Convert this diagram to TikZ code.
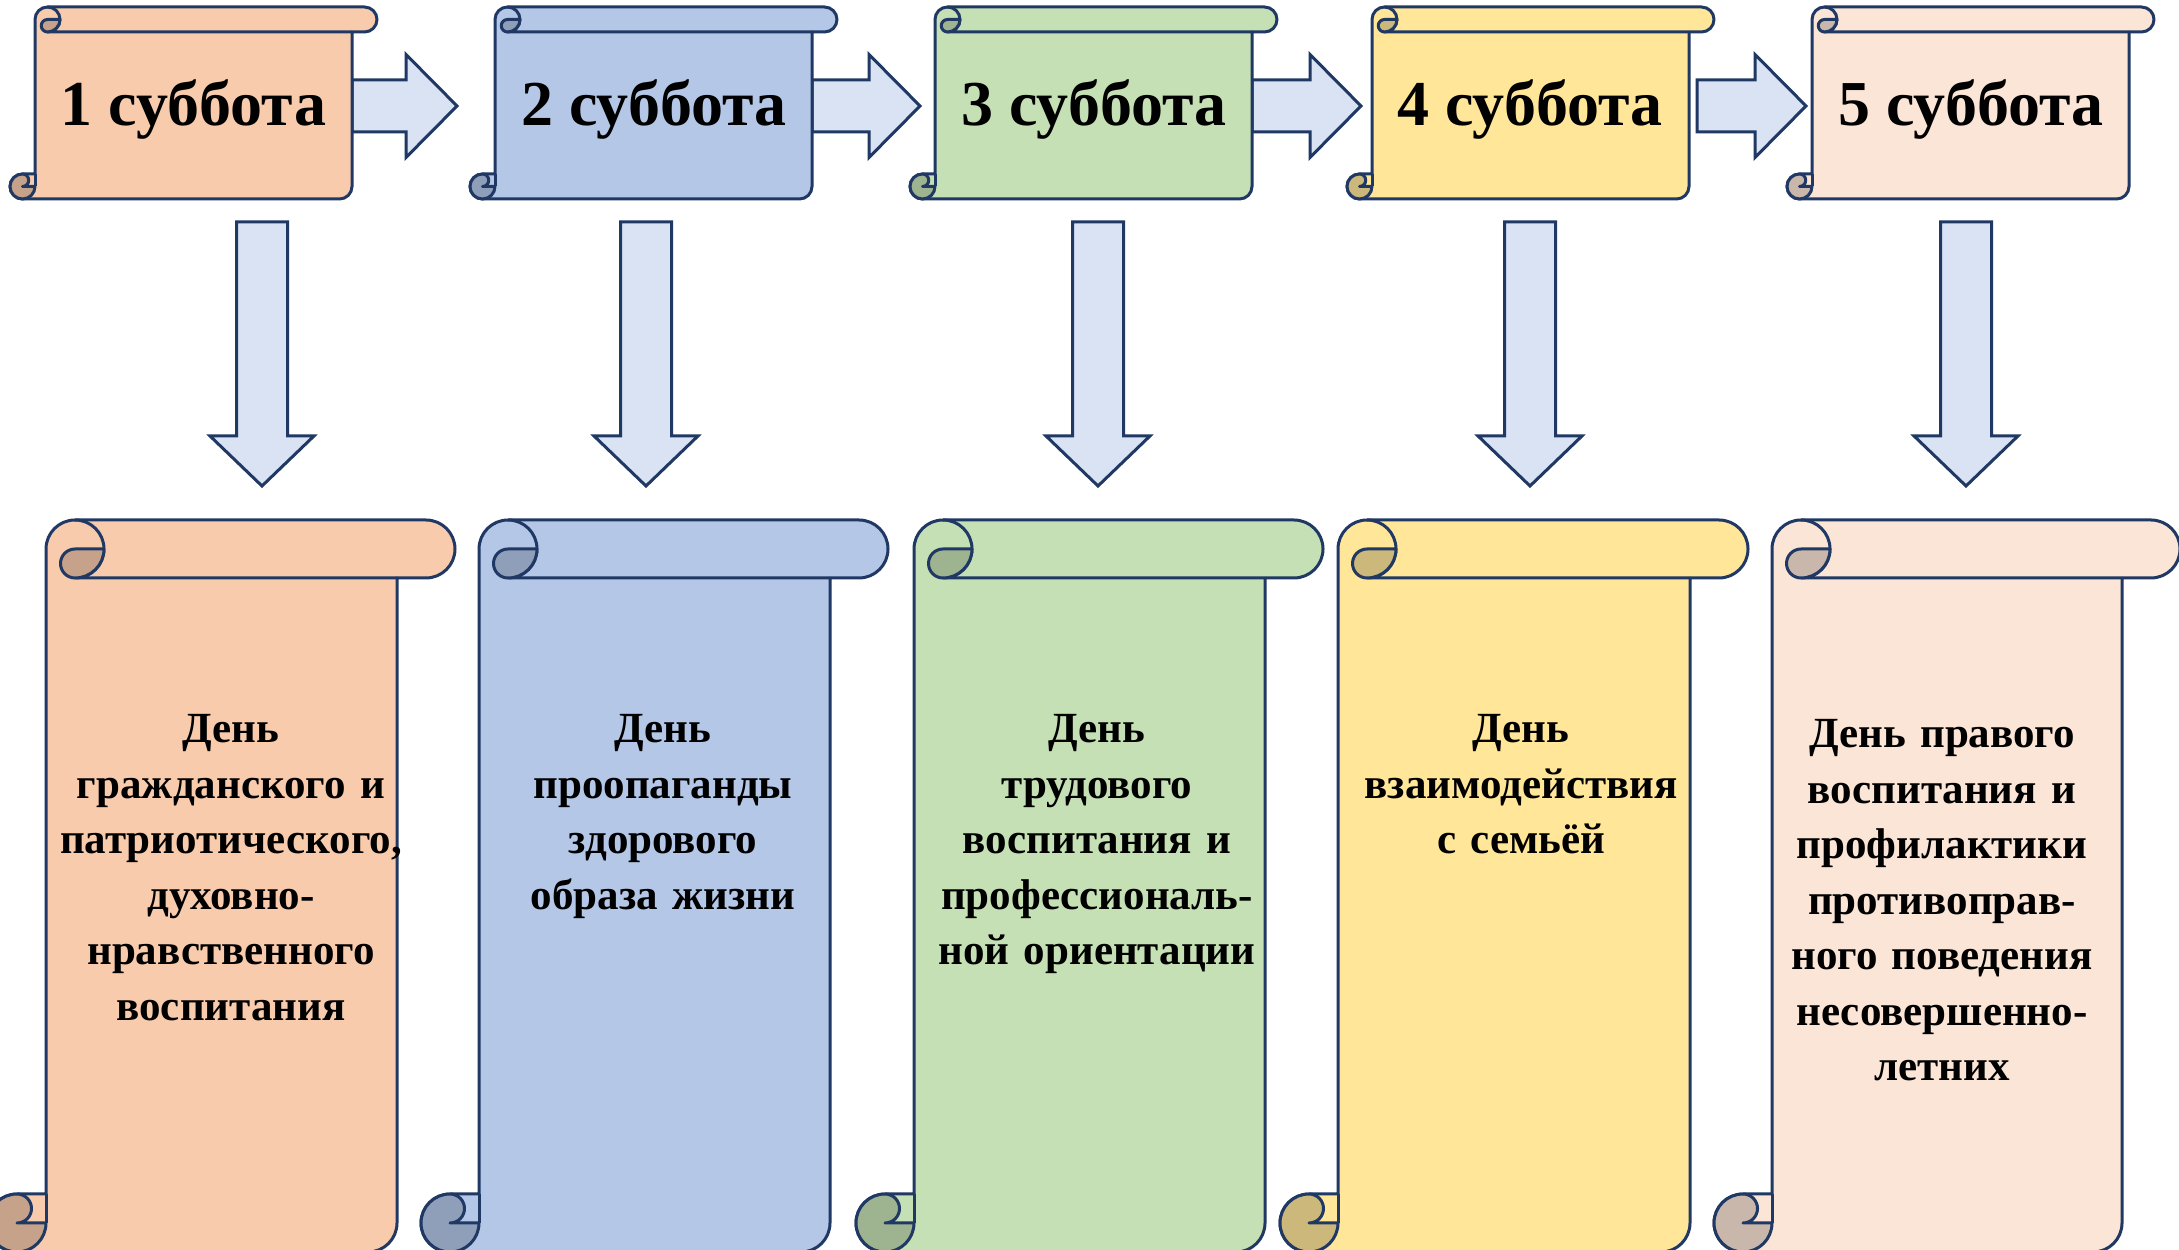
\documentclass[tikz,border=0pt]{standalone}
\usepackage{fontspec}
\setmainfont{Liberation Serif}
\definecolor{navy}{HTML}{1F3864}
\definecolor{arrowfill}{HTML}{DAE3F3}
\definecolor{fillA}{HTML}{F8CBAD}\definecolor{darkA}{HTML}{C6A28A}
\definecolor{fillB}{HTML}{B4C7E7}\definecolor{darkB}{HTML}{909FB9}
\definecolor{fillC}{HTML}{C5E0B4}\definecolor{darkC}{HTML}{9EB390}
\definecolor{fillD}{HTML}{FFE699}\definecolor{darkD}{HTML}{CCB87A}
\definecolor{fillE}{HTML}{FBE5D6}\definecolor{darkE}{HTML}{C9B7AB}
% #1 left, #2 top, #3 right, #4 bottom, #5 roll size, #6 fill, #7 dark fill
\newcommand{\scrollshape}[7]{%
  \pgfmathsetmacro{\sL}{#1}\pgfmathsetmacro{\sT}{#2}%
  \pgfmathsetmacro{\sR}{#3}\pgfmathsetmacro{\sB}{#4}%
  \pgfmathsetmacro{\sc}{#5}\pgfmathsetmacro{\sh}{#5/2}\pgfmathsetmacro{\sq}{#5/4}%
  \filldraw[scrollline, fill=#6] (\sL,\sT-\sh) -- (\sL,\sB+\sc) -- (\sL-\sh,\sB+\sc)
    arc[start angle=90,end angle=270,radius=\sh] -- (\sR-\sh,\sB)
    arc[start angle=-90,end angle=0,radius=\sh] -- (\sR,\sT-\sc) -- (\sR+\sh,\sT-\sc)
    arc[start angle=-90,end angle=90,radius=\sh] -- (\sL+\sh,\sT)
    arc[start angle=90,end angle=180,radius=\sh] -- cycle;
  \draw[scrollline] (\sL+\sh,\sT) arc[start angle=90,end angle=-90,radius=\sh] -- (\sR,\sT-\sc);
  \draw[scrollline] (\sL,\sB+\sc) -- (\sL,\sB+\sh);
  \filldraw[scrollline, fill=#7] (\sL+\sh,\sT-\sh) -- (\sL+\sc,\sT-\sh)
    arc[start angle=0,end angle=-90,radius=\sh]
    arc[start angle=270,end angle=90,radius=\sq] -- cycle;
  \filldraw[scrollline, fill=#7] (\sL-\sh,\sB+\sc)
    arc[start angle=90,end angle=360,radius=\sh] -- (\sL-\sh,\sB+\sh)
    arc[start angle=-90,end angle=90,radius=\sq] -- cycle;
}
% horizontal block arrow: #1 start x, #2 tip x, #3 centre y
\newcommand{\harrow}[3]{%
  \filldraw[arrowbox] (#1,#3+26) -- (#2-51,#3+26) -- (#2-51,#3+51.5) -- (#2,#3)
    -- (#2-51,#3-51.5) -- (#2-51,#3-26) -- (#1,#3-26) -- cycle;
}
% vertical block arrow: #1 centre x
\newcommand{\varrow}[1]{%
  \filldraw[arrowbox] (#1-25.5,1028) -- (#1+25.5,1028) -- (#1+25.5,814) -- (#1+52,814)
    -- (#1,764) -- (#1-52,814) -- (#1-25.5,814) -- cycle;
}
\begin{document}
\begin{tikzpicture}[x=1pt,y=1pt,
  scrollline/.style={draw=navy, line width=3pt, line join=round},
  arrowbox/.style={draw=navy, fill=arrowfill, line width=3pt, line join=miter},
  title/.style={font=\fontsize{64}{70}\selectfont\bfseries, inner sep=0pt, anchor=base},
  bodytext/.style={font=\fontsize{43}{55.5}\selectfont\bfseries, inner sep=0pt, anchor=base,
    text width=520pt, align=center}]
\useasboundingbox (0,0) rectangle (2179,1250);
\clip (0,0) rectangle (2179,1250);
\fill[white] (0,0) rectangle (2179,1250);
% horizontal arrows
\harrow{352}{457}{1144}
\harrow{812}{920}{1144}
\harrow{1252}{1361}{1144}
\harrow{1697}{1806}{1144}
% top scrolls
\scrollshape{35}{1243}{352}{1051}{25}{fillA}{darkA}
\scrollshape{495}{1243}{812}{1051}{25}{fillB}{darkB}
\scrollshape{935}{1243}{1252}{1051}{25}{fillC}{darkC}
\scrollshape{1372}{1243}{1689}{1051}{25}{fillD}{darkD}
\scrollshape{1812}{1243}{2129}{1051}{25}{fillE}{darkE}
\node[title] (s1) at (193.5,1124) {1 суббота};
\node[title] (s2) at (654,1124) {2 суббота};
\node[title] (s3) at (1094,1124) {3 суббота};
\node[title] (s4) at (1530,1124) {4 суббота};
\node[title] (s5) at (1971,1124) {5 суббота};
% down arrows
\varrow{262}
\varrow{646}
\varrow{1098}
\varrow{1530}
\varrow{1966}
% bottom scrolls
\scrollshape{46}{730}{397}{-2}{58}{fillA}{darkA}
\scrollshape{479}{730}{830}{-2}{58}{fillB}{darkB}
\scrollshape{914}{730}{1265}{-2}{58}{fillC}{darkC}
\scrollshape{1338}{730}{1690}{-2}{58}{fillD}{darkD}
\scrollshape{1772}{730}{2122}{-2}{58}{fillE}{darkE}
\node[bodytext] (d1) at (231,507) {День\\гражданского и\\патриотического,\\духовно-\\нравственного\\воспитания};
\node[bodytext] (d2) at (663,507) {День\\проопаганды\\здорового\\образа жизни};
\node[bodytext] (d3) at (1097,507) {День\\трудового\\воспитания и\\профессиональ-\\ной ориентации};
\node[bodytext] (d4) at (1521,507) {День\\взаимодействия\\с семьёй};
\node[bodytext] (d5) at (1942,502) {День правого\\воспитания и\\профилактики\\противоправ-\\ного поведения\\несовершенно-\\летних};
\end{tikzpicture}
\end{document}
